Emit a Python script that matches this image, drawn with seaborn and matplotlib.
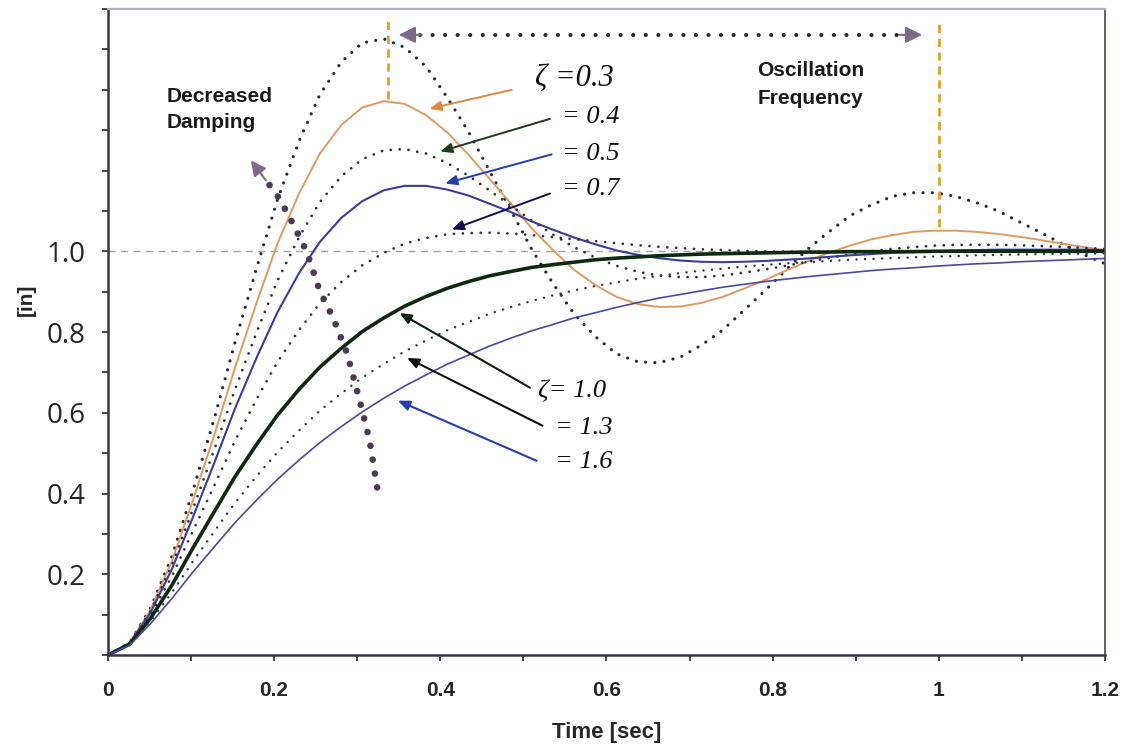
import matplotlib
matplotlib.use("Agg")
import matplotlib.pyplot as plt
import pandas as pd
import seaborn as sns

# ---------------- data ----------------
time_s = [0.000, 0.026, 0.051, 0.077, 0.102, 0.128, 0.153, 0.179, 0.204, 0.230,
          0.255, 0.281, 0.306, 0.332, 0.357, 0.383, 0.408, 0.434, 0.459, 0.485,
          0.510, 0.536, 0.561, 0.587, 0.612, 0.638, 0.663, 0.689, 0.714, 0.740,
          0.765, 0.791, 0.816, 0.842, 0.867, 0.893, 0.918, 0.944, 0.969, 0.995,
          1.020, 1.046, 1.071, 1.097, 1.122, 1.148, 1.173, 1.199, 1.224]

resp_z02 = [0, .030, .115, .244, .405, .586, .775, .959, 1.128, 1.273, 1.388, 1.469, 1.516,
            1.526, 1.505, 1.457, 1.382, 1.296, 1.200, 1.101, 1.005, .919, .845, .788, .746,
            .726, .724, .738, .767, .805, .853, .903, .954, 1.005, 1.047, 1.088, 1.114,
            1.136, 1.145, 1.145, 1.136, 1.120, 1.100, 1.073, 1.047, 1.019, .993, .970, .951]
resp_z03 = [0, .030, .111, .233, .381, .545, .712, .873, 1.019, 1.143, 1.242, 1.313, 1.356,
            1.372, 1.365, 1.337, 1.295, 1.239, 1.180, 1.118, 1.057, 1.002, .954, .916, .887,
            .869, .862, .863, .872, .887, .907, .929, .952, .975, .996, 1.014, 1.029,
            1.040, 1.048, 1.051, 1.051, 1.048, 1.043, 1.036, 1.028, 1.019, 1.011, 1.003, .996]
resp_z04 = [0, .029, .108, .222, .360, .509, .658, .800, .927, 1.035, 1.122, 1.186, 1.228,
            1.250, 1.253, 1.242, 1.219, 1.187, 1.151, 1.113, 1.076, 1.041, 1.010, .984, .964,
            .949, .940, .936, .936, .940, .947, .955, .964, .974, .983, .992, 1.000,
            1.006, 1.010, 1.014, 1.016, 1.016, 1.016, 1.015, 1.013, 1.011, 1.008, 1.006, 1.004]
resp_z05 = [0, .029, .104, .213, .340, .476, .611, .737, .849, .946, 1.023, 1.083, 1.124,
            1.151, 1.162, 1.162, 1.153, 1.138, 1.118, 1.097, 1.074, 1.053, 1.034, 1.017, 1.002,
            .991, .983, .977, .974, .973, .974, .976, .979, .982, .986, .990, .993,
            .996, .998, 1.000, 1.002, 1.003, 1.004, 1.004, 1.004, 1.004, 1.004, 1.003, 1.003]
resp_z07 = [0, .028, .098, .195, .306, .420, .531, .634, .726, .805, .871, .924, .965,
            .996, 1.019, 1.033, 1.042, 1.045, 1.046, 1.044, 1.040, 1.035, 1.030, 1.025, 1.020,
            1.015, 1.011, 1.008, 1.005, 1.003, 1.001, 1.000, .999, .999, .999, .999, .999,
            1.0, 1.0, 1.0, 1.0, 1.0, 1.0, 1.0, 1.0, 1.0, 1.0, 1.0, 1.0]
resp_z10 = [0, .027, .090, .173, .264, .355, .442, .522, .594, .658, .713, .760, .801,
            .835, .864, .888, .908, .925, .939, .950, .960, .967, .973, .979, .983,
            .986, .989, .991, .993, .994, .995, .996, .997, .998, .998, .999, .999,
            .999, .999, 1.0, 1.0, 1.0, 1.0, 1.0, 1.0, 1.0, 1.0, 1.0, 1.0]
resp_z13 = [0, .025, .083, .155, .231, .306, .377, .443, .502, .556, .605, .648, .687,
            .721, .752, .779, .804, .825, .845, .862, .877, .891, .903, .914, .923,
            .932, .939, .946, .952, .957, .962, .966, .970, .973, .976, .979, .981,
            .983, .985, .987, .988, .990, .991, .992, .993, .994, .994, .995, .995]
resp_z16 = [0, .024, .077, .140, .205, .268, .328, .384, .435, .483, .526, .566, .602,
            .636, .666, .694, .720, .743, .765, .785, .803, .819, .835, .848, .861,
            .873, .884, .893, .902, .911, .918, .925, .931, .937, .942, .947, .952,
            .956, .959, .963, .966, .969, .971, .974, .976, .978, .980, .982, .983]

y_tick_values = [0.2, 0.4, 0.6, 0.8, 1.0]
y_tick_labels = ["0.2", "0.4", "0.6", "0.8", "1.0"]
x_tick_values = [0, 0.2, 0.4, 0.6, 0.8, 1.0, 1.2]
x_tick_labels = ["0", "0.2", "0.4", "0.6", "0.8", "1", "1.2"]

zeta_labels_top = ["\u03b6 =0.3", "= 0.4", "= 0.5", "= 0.7"]
zeta_labels_bottom = ["\u03b6= 1.0", "= 1.3", "= 1.6"]

# ---------------- styling ----------------
sns.set_style("ticks")
plt.rcParams["font.family"] = ["Liberation Sans", "DejaVu Sans"]

fig, ax = plt.subplots(figsize=(11.28, 7.51), dpi=100)
fig.subplots_adjust(left=0.0957, right=0.9796, bottom=0.1278, top=0.988)

curve_styles = [
    (resp_z02, dict(color="#2b2738", linewidth=2.3, linestyle=(0, (0.01, 2.9)))),
    (resp_z03, dict(color="#e09a60", linewidth=1.4, linestyle="-")),
    (resp_z04, dict(color="#2e2e2e", linewidth=2.0, linestyle=(0, (0.01, 3.2)))),
    (resp_z05, dict(color="#3c3c9c", linewidth=1.5, linestyle="-")),
    (resp_z07, dict(color="#3c2c58", linewidth=2.0, linestyle=(0, (0.01, 3.2)))),
    (resp_z10, dict(color="#0d2a10", linewidth=2.6, linestyle="-")),
    (resp_z13, dict(color="#2e3b3e", linewidth=1.8, linestyle=(0, (0.01, 3.4)))),
    (resp_z16, dict(color="#4a48a0", linewidth=1.2, linestyle="-")),
]

# reference line at 1.0
ax.axhline(1.0, color="#a0a0a8", linewidth=1.0, linestyle=(0, (5, 4)), zorder=1)

for vals, st in curve_styles:
    df = pd.DataFrame({"t": time_s, "y": vals})
    sns.lineplot(data=df, x="t", y="y", ax=ax, estimator=None, sort=False,
                 dash_capstyle="round", solid_capstyle="round", **st)

ax.set_xlim(0, 1.2)
ax.set_ylim(0, 1.6)

# ticks
minor_y = [round(0.1 * i, 1) for i in range(0, 17)]
ax.set_yticks(minor_y)
ax.set_yticklabels([y_tick_labels[y_tick_values.index(v)] if v in y_tick_values else ""
                    for v in minor_y], fontsize=20, family=["Open Sans", "DejaVu Sans"])
ax.set_xticks(x_tick_values)
ax.set_xticklabels(x_tick_labels, fontsize=15, fontweight="bold")
ax.set_xticks([0.1, 0.3, 0.5, 0.7, 0.9, 1.1], minor=True)
ax.tick_params(axis="both", which="both", direction="out", length=4, width=1.3,
               color="#3a3545")
ax.tick_params(axis="x", which="major", pad=15)
ax.tick_params(axis="y", which="major", pad=12)

for side in ["left", "bottom"]:
    ax.spines[side].set_color("#3a3545")
    ax.spines[side].set_linewidth(1.8)
ax.spines["top"].set_color("#b4b0c4")
ax.spines["top"].set_linewidth(1.6)
ax.spines["right"].set_color("#555560")
ax.spines["right"].set_linewidth(1.3)

ax.set_xlabel("Time [sec]", fontsize=16, fontweight="bold")
ax.xaxis.set_label_coords(0.5, -0.104)
ax.set_ylabel("[in]", fontsize=15, fontweight="bold")
ax.yaxis.set_label_coords(-0.072, 0.55)

# ---------------- annotations ----------------
# Decreased damping curved dotted arrow
dd_t = [0.324, 0.315, 0.303, 0.288, 0.271, 0.255, 0.239, 0.217, 0.203, 0.191]
dd_y = [0.415, 0.531, 0.630, 0.746, 0.835, 0.901, 1.000, 1.091, 1.141, 1.173]
ax.plot(dd_t, dd_y, color="#4a3a55", linewidth=4.8, linestyle=(0, (0.01, 2.1)),
        dash_capstyle="round", zorder=4)
ax.annotate("", xy=(0.172, 1.225), xytext=(0.190, 1.176),
            arrowprops=dict(arrowstyle="-|>,head_length=0.9,head_width=0.45",
                            color="#7b6b87", lw=1.5, shrinkA=0, shrinkB=0), zorder=5)
ax.text(0.071, 1.352, "Decreased\nDamping", fontsize=15, fontweight="bold",
        ha="left", va="center", linespacing=1.45, color="#1a1a1a")

# Oscillation frequency arrow
ax.plot([0.375, 0.955], [1.536, 1.536], color="#2a2a30", linewidth=3.0,
        linestyle=(0, (0.01, 3.0)), dash_capstyle="round", zorder=4)
ax.annotate("", xy=(0.350, 1.536), xytext=(0.378, 1.536),
            arrowprops=dict(arrowstyle="-|>,head_length=1.0,head_width=0.5",
                            color="#7b6b87", lw=1.5, shrinkA=0, shrinkB=0), zorder=5)
ax.annotate("", xy=(0.980, 1.536), xytext=(0.952, 1.536),
            arrowprops=dict(arrowstyle="-|>,head_length=1.0,head_width=0.5",
                            color="#7b6b87", lw=1.5, shrinkA=0, shrinkB=0), zorder=5)
ax.text(0.846, 1.413, "Oscillation\nFrequency", fontsize=15, fontweight="bold",
        ha="center", va="center", linespacing=1.55, color="#1a1a1a")

# orange dashed markers of successive peaks
ax.plot([0.337, 0.337], [1.378, 1.575], color="#e0a030", linewidth=2.0,
        linestyle=(0, (3, 2)), zorder=3)
ax.plot([1.0, 1.0], [1.06, 1.575], color="#e0a030", linewidth=2.0,
        linestyle=(0, (3, 2)), zorder=3)

# zeta labels and arrows
serif = ["Liberation Serif", "DejaVu Serif"]
top_label_pos = [(0.514, 1.427, 22), (0.546, 1.333, 19), (0.546, 1.242, 19), (0.546, 1.153, 19)]
top_arrows = [((0.486, 1.400), (0.387, 1.353), "#e08a40"),
              ((0.532, 1.328), (0.400, 1.247), "#1f3a1f"),
              ((0.534, 1.240), (0.406, 1.168), "#2040a8"),
              ((0.532, 1.143), (0.414, 1.054), "#101050")]
for lab, (tx, ty, fs) in zip(zeta_labels_top, top_label_pos):
    ax.text(tx, ty, lab, fontsize=fs, style="italic", family=serif, ha="left",
            va="center", color="#111111")
for (start, end, col) in top_arrows:
    ax.annotate("", xy=end, xytext=start,
                arrowprops=dict(arrowstyle="-|>,head_length=0.7,head_width=0.3",
                                color=col, lw=1.4, shrinkA=0, shrinkB=0), zorder=6)

bottom_label_pos = [(0.517, 0.654, 19), (0.538, 0.563, 19), (0.538, 0.477, 19)]
bottom_arrows = [((0.508, 0.662), (0.351, 0.847), "#0d200d"),
                 ((0.523, 0.568), (0.360, 0.736), "#111111"),
                 ((0.516, 0.481), (0.349, 0.630), "#2040b0")]
for lab, (tx, ty, fs) in zip(zeta_labels_bottom, bottom_label_pos):
    ax.text(tx, ty, lab, fontsize=fs, style="italic", family=serif, ha="left",
            va="center", color="#111111")
for (start, end, col) in bottom_arrows:
    ax.annotate("", xy=end, xytext=start,
                arrowprops=dict(arrowstyle="-|>,head_length=0.7,head_width=0.3",
                                color=col, lw=1.5, shrinkA=0, shrinkB=0), zorder=6)

fig.savefig("out.png", dpi=100)
